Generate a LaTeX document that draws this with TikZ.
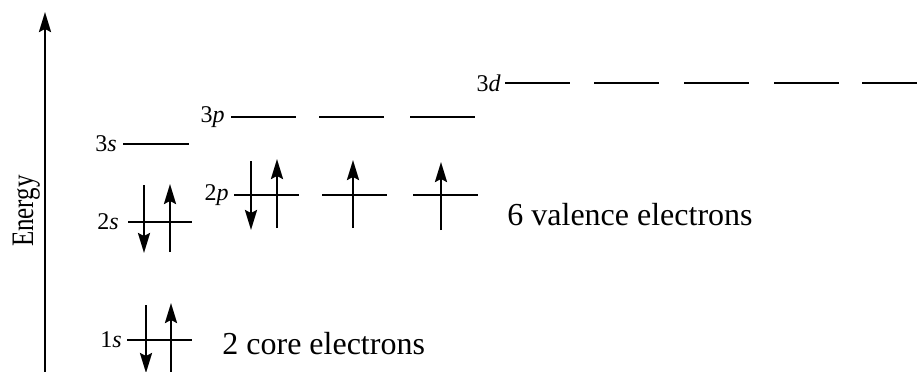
\documentclass[tikz,border=0pt]{standalone}
\usepackage{fontspec}
\setmainfont{Liberation Serif}
\usetikzlibrary{arrows.meta, positioning}

\begin{document}
\begin{tikzpicture}[
    x=0.5pt, y=-0.5pt,
    >={Stealth[length=10pt, width=6pt, inset=1.5pt]},
    lvl/.style={line width=1.1pt},
    spn/.style={line width=1.2pt, ->},
    olab/.style={font=\fontsize{12}{14}\selectfont, anchor=east, inner sep=0pt},
    ntxt/.style={font=\fontsize{16}{19}\selectfont, anchor=base west, inner sep=0pt}
  ]
  \useasboundingbox (0,0) rectangle (917,371);

  % energy axis
  \coordinate (axlo) at (45,373);
  \coordinate (axhi) at (45,12);
  \draw[spn] (axlo) -- (axhi);
  \node[rotate=90, anchor=base, inner sep=0pt, font=\fontsize{12.5}{14}\selectfont]
    (energy) at (33,211) {\scalebox{1}[1.25]{Energy}};

  % orbital levels
  \foreach \xa/\xb/\yy in {127/192/340, 128/192/222, 123/189/144,
                           234/299/195, 322/387/195, 413/478/195,
                           231/296/117, 319/384/117, 410/475/117,
                           505/570/83, 594/659/83, 684/749/83, 774/839/83, 862/927/83}
    \draw[lvl] (\xa,\yy) -- (\xb,\yy);

  % labels
  \node[olab] (l1s) at (122,340) {1\textit{s}};
  \node[olab] (l2s) at (119,222) {2\textit{s}};
  \node[olab] (l3s) at (117,144) {3\textit{s}};
  \node[olab] (l2p) at (229,195) {2\textit{p}};
  \node[olab] (l3p) at (225,117) {3\textit{p}};
  \node[olab] (l3d) at (501,83)  {3\textit{d}};

  % electrons
  \foreach \xx/\ya/\yb in {146/305/373, 144/185/253, 251/161/230}
    \draw[spn] (\xx,\ya) -- (\xx,\yb);
  \foreach \xx/\ya/\yb in {171/373/303, 170/252/184, 277/228/159, 353/228/160, 441/230/162}
    \draw[spn] (\xx,\ya) -- (\xx,\yb);

  \node[ntxt] (core) at (222,354) {2 core electrons};
  \node[ntxt] (valence) at (507,225) {6 valence electrons};
\end{tikzpicture}
\end{document}
